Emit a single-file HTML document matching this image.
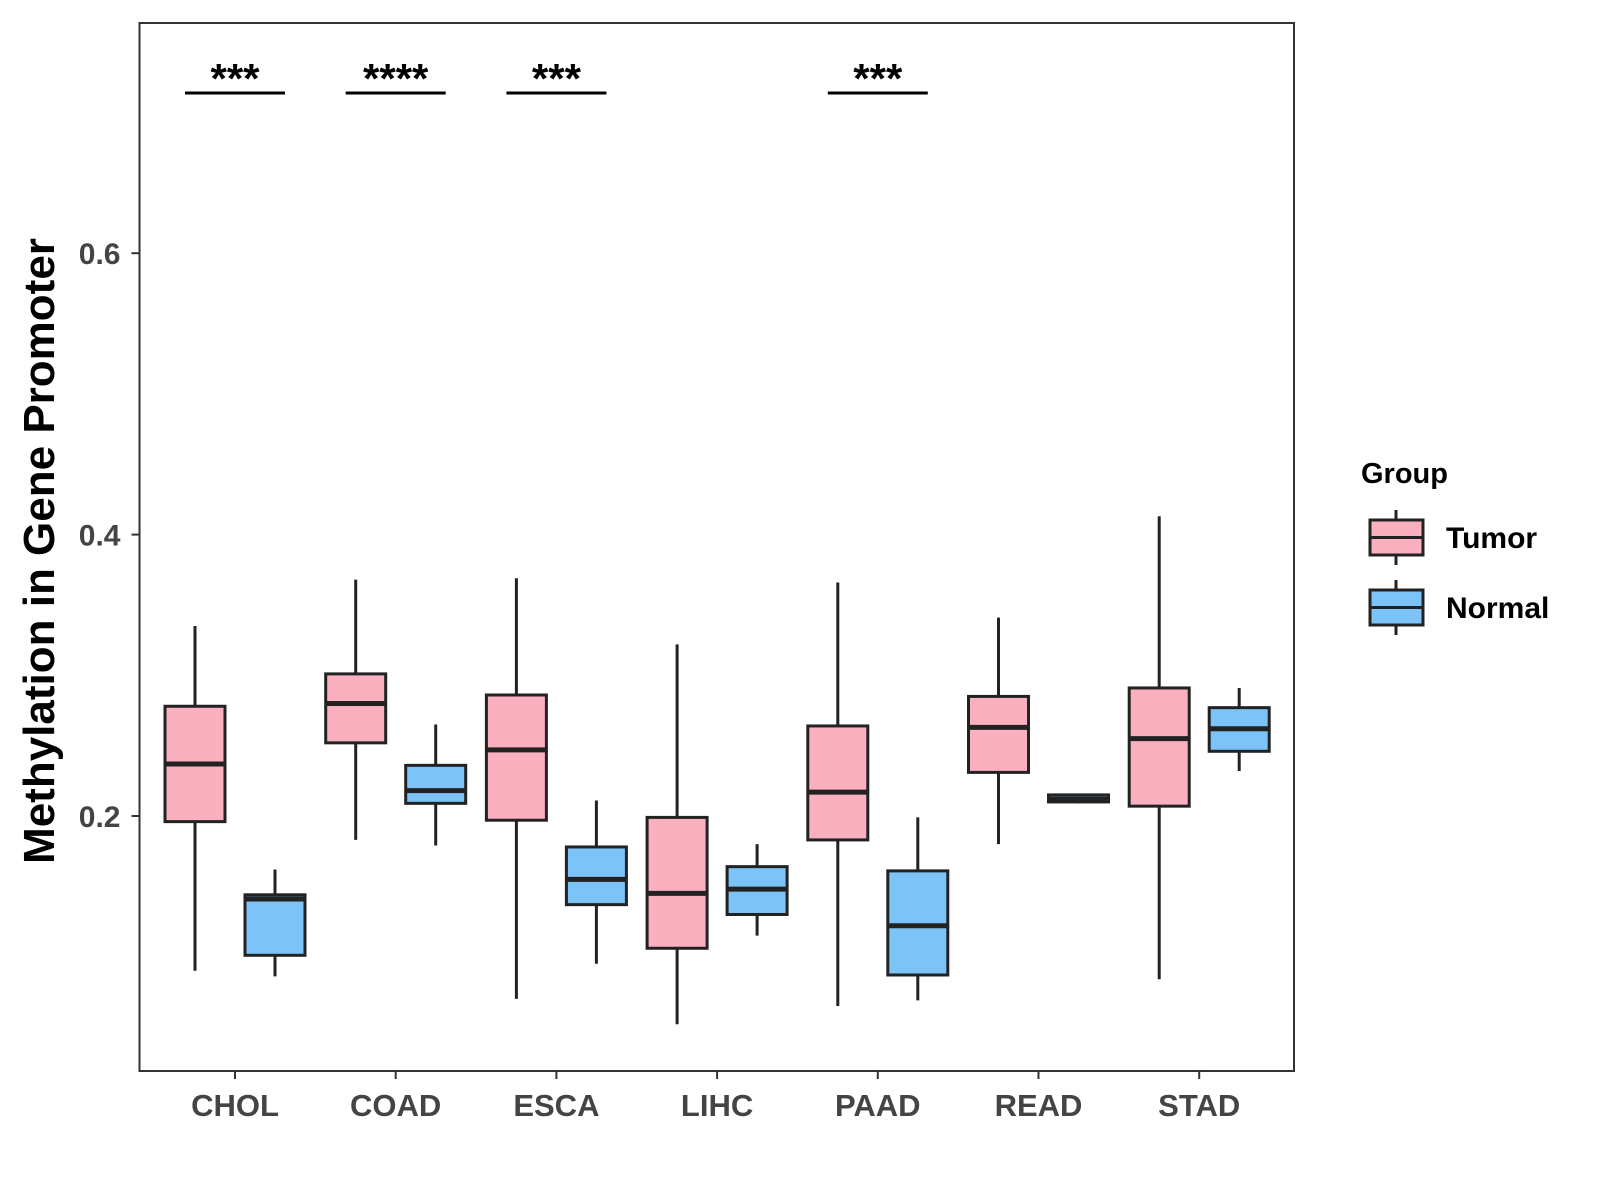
<!DOCTYPE html>
<html><head><meta charset="utf-8"><style>body{margin:0;background:#fff}svg{display:block;font-family:"Liberation Sans",Arial,sans-serif}</style></head>
<body>
<svg id="chart" width="1600" height="1200" viewBox="0 0 1600 1200"></svg>
<script>
const categories=["CHOL","COAD","ESCA","LIHC","PAAD","READ","STAD"];
const tumorLo=[0.090,0.183,0.070,0.052,0.065,0.180,0.084];
const tumorQ1=[0.196,0.252,0.197,0.106,0.183,0.231,0.207];
const tumorMed=[0.237,0.280,0.247,0.145,0.217,0.263,0.255];
const tumorQ3=[0.278,0.301,0.286,0.199,0.264,0.285,0.291];
const tumorHi=[0.335,0.368,0.369,0.322,0.366,0.341,0.413];
const normalLo=[0.086,0.179,0.095,0.115,0.069,0.209,0.232];
const normalQ1=[0.101,0.209,0.137,0.130,0.087,0.210,0.246];
const normalMed=[0.141,0.218,0.155,0.148,0.122,0.212,0.262];
const normalQ3=[0.144,0.236,0.178,0.164,0.161,0.215,0.277];
const normalHi=[0.162,0.265,0.211,0.180,0.199,0.216,0.291];
const sigLabels=["***","****","***","","***","",""];
const yTicks=[0.2,0.4,0.6];
const NS="http://www.w3.org/2000/svg";
const svg=document.getElementById("chart");
const L=139.5,R=1294,T=23,B=1071;
function y(v){return 816-(v-0.2)*1407;}
function xc(i){return 235+i*160.7;}
function mk(tag,attrs,parent){const e=document.createElementNS(NS,tag);for(const k in attrs)e.setAttribute(k,attrs[k]);(parent||svg).appendChild(e);return e;}
function txt(s,attrs,name){const e=mk("text",attrs);e.textContent=s;


return e;}
const panel=mk("rect",{x:L,y:T,width:R-L,height:B-T,fill:"#fff",stroke:"#333","stroke-width":2});


yTicks.forEach(t=>{
const tk=mk("line",{x1:L-8,x2:L,y1:y(t),y2:y(t),stroke:"#333","stroke-width":2});


txt(t.toFixed(1),{x:L-19,y:y(t)+11,"text-anchor":"end","font-size":30,"font-weight":"bold",fill:"#444"},"y-tick-label");
});
function box(cx,lo,q1,med,q3,hi,fill,name){
const g=mk("g",{});


mk("line",{x1:cx,x2:cx,y1:y(hi),y2:y(lo),stroke:"#222","stroke-width":3},g);
mk("rect",{x:cx-30,y:y(q3),width:60,height:y(q1)-y(q3),fill:fill,stroke:"#222","stroke-width":3},g);
mk("line",{x1:cx-30,x2:cx+30,y1:y(med),y2:y(med),stroke:"#222","stroke-width":5},g);
}
categories.forEach((c,i)=>{
const x=xc(i);
box(x-40,tumorLo[i],tumorQ1[i],tumorMed[i],tumorQ3[i],tumorHi[i],"#fbb0c0","box-tumor-"+c.toLowerCase());
box(x+40,normalLo[i],normalQ1[i],normalMed[i],normalQ3[i],normalHi[i],"#7cc4f8","box-normal-"+c.toLowerCase());
const tk=mk("line",{x1:x,x2:x,y1:B,y2:B+8,stroke:"#333","stroke-width":2});


txt(c,{x:x,y:1116,"text-anchor":"middle","font-size":31,"font-weight":"bold",fill:"#444"},"x-tick-label");
if(sigLabels[i]){
const l=mk("line",{x1:x-50,x2:x+50,y1:93,y2:93,stroke:"#000","stroke-width":3});


txt(sigLabels[i],{x:x,y:93,"text-anchor":"middle","font-size":42,"font-weight":"bold",fill:"#000"},"significance-label");
}
});
txt("Methylation in Gene Promoter",{x:0,y:0,transform:"translate(54,551) rotate(-90)","text-anchor":"middle","font-size":44,"font-weight":"bold",fill:"#000"},"y-axis-title");
txt("Group",{x:1361,y:483,"font-size":29,"font-weight":"bold",fill:"#000"},"legend-title");
[["Tumor","#fbb0c0",520],["Normal","#7cc4f8",590]].forEach(([n,f,yy])=>{
const g=mk("g",{});


mk("line",{x1:1396,x2:1396,y1:yy-10,y2:yy+45,stroke:"#222","stroke-width":3},g);
mk("rect",{x:1370,y:yy,width:53,height:35,fill:f,stroke:"#222","stroke-width":3},g);
mk("line",{x1:1370,x2:1423,y1:yy+17.5,y2:yy+17.5,stroke:"#222","stroke-width":3},g);
txt(n,{x:1446,y:yy+28,"font-size":30,"font-weight":"bold",fill:"#000"},"legend-label");
});
</script>
</body></html>
